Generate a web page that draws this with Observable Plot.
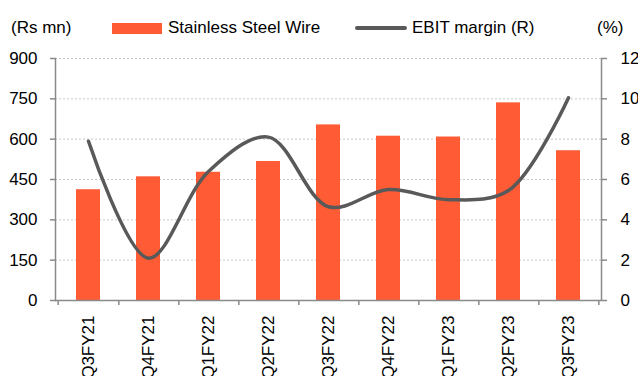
<!DOCTYPE html>
<html><head><meta charset="utf-8">
<script src="https://cdn.jsdelivr.net/npm/d3@7"></script>
<script src="https://cdn.jsdelivr.net/npm/@observablehq/plot@0.6"></script>
<style>
body{margin:0;background:#fff;font-family:"Liberation Sans",Arial,sans-serif;}
#wrap{width:638px;height:376px;overflow:hidden;position:relative}
#legend{position:relative;height:50px;font-size:17px;color:#000}
#legend .t{position:absolute;top:18px;line-height:20px;white-space:nowrap}
#legend .sw{position:absolute}
</style></head>
<body>
<div id="wrap">
  <div id="legend">
    <span class="t" style="left:11px">(Rs mn)</span>
    <span class="sw" style="left:112px;top:23px;width:50px;height:11px;background:#ff5b35"></span>
    <span class="t" style="left:168px">Stainless Steel Wire</span>
    <span class="sw" style="left:355px;top:26px;width:52px;height:4px;background:#595959;border-radius:2px"></span>
    <span class="t" style="left:412px">EBIT margin (R)</span>
    <span class="t" style="left:597px">(%)</span>
  </div>
  <div id="chart"></div>
</div>
<script>
const quarters = ["Q3FY21","Q4FY21","Q1FY22","Q2FY22","Q3FY22","Q4FY22","Q1FY23","Q2FY23","Q3FY23"];
const wireRevenue = [412, 460, 477, 517, 653, 611, 608, 735, 557];
const ebitMargin = [7.9, 2.1, 6.4, 8.1, 4.65, 5.5, 5.0, 5.45, 10.05];
const leftTicks = [0, 150, 300, 450, 600, 750, 900];
const rightTicks = [0, 2, 4, 6, 8, 10, 12];
const ratio = 900 / 12;

const data = quarters.map((q, i) => ({q, wire: wireRevenue[i], margin: ebitMargin[i]}));

const W = 638, mL = 55, mR = 37;
const step = (W - mL - mR) / quarters.length;
const axisColor = "#8a8a8a";

const chart = Plot.plot({
  width: W,
  height: 326,
  marginLeft: mL,
  marginRight: mR,
  marginTop: 8,
  marginBottom: 76,
  style: {fontFamily: "'Liberation Sans', Arial, sans-serif", fontSize: "17px", color: "#000", background: "#fff", overflow: "visible"},
  x: {domain: quarters, paddingInner: 0.6, paddingOuter: 0.3},
  y: {domain: [0, 900]},
  marks: [
    Plot.gridY(leftTicks, {stroke: "#c8c8c8", strokeOpacity: 1, strokeDasharray: "2,2"}),
    Plot.barY(data, {x: "q", y: "wire", fill: "#ff5b35"}),
    Plot.line(data, {x: "q", y: d => d.margin * ratio, stroke: "#595959", strokeWidth: 3.5, curve: "catmull-rom"}),
    Plot.ruleY([0], {stroke: axisColor, strokeWidth: 1.5}),
    Plot.frame({anchor: "left", stroke: axisColor, strokeWidth: 1.5}),
    Plot.frame({anchor: "right", stroke: axisColor, strokeWidth: 1.5}),
    Plot.axisY(leftTicks, {anchor: "left", tickSize: 5, tickPadding: 13, stroke: axisColor, strokeWidth: 1.5, label: null}),
    Plot.axisY(rightTicks.map(t => t * ratio), {anchor: "right", tickSize: 5, tickPadding: 14, stroke: axisColor, strokeWidth: 1.5, tickFormat: d => d / ratio, label: null}),
    Plot.axisX(quarters, {anchor: "bottom", tickSize: 5, stroke: axisColor, strokeWidth: 1.5, tickFormat: () => "", dx: step / 2, label: null}),
    Plot.axisX(quarters.slice(0, 1), {anchor: "bottom", tickSize: 5, stroke: axisColor, strokeWidth: 1.5, tickFormat: () => "", dx: -step / 2, label: null}),
    Plot.axisX(quarters, {anchor: "bottom", tickSize: 0, tickPadding: 15, tickRotate: -90, label: null})
  ]
});
document.getElementById("chart").appendChild(chart);
</script>
</body></html>
